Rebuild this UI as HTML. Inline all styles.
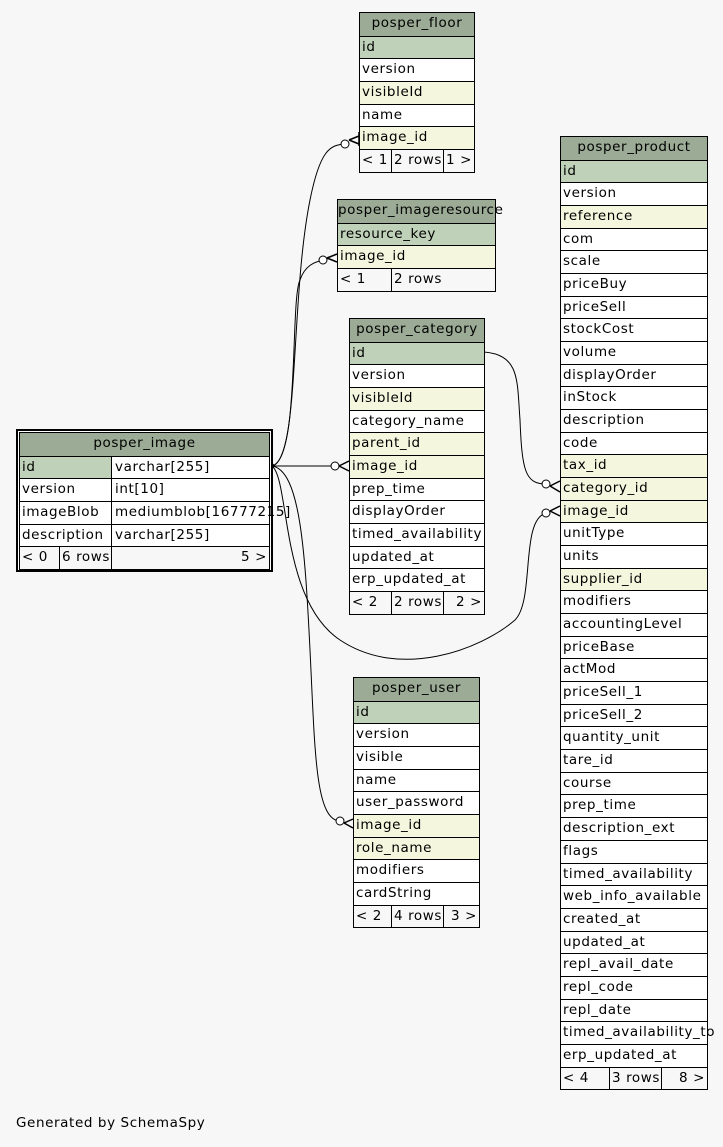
<!DOCTYPE html>
<html><head><style>
body{margin:0;background:#f7f7f7;width:723px;height:1147px;position:relative;overflow:hidden;font-family:"DejaVu Sans","Liberation Sans",sans-serif;font-size:13.5px;letter-spacing:0.6px;color:#000}
.t{position:absolute;border:1px solid #000;background:#fff;box-sizing:border-box}
.r{height:22.68px;box-sizing:border-box;border-top:1px solid #000;line-height:21px;padding-left:2px;white-space:nowrap;position:relative}
.h{background:#9cab96;text-align:center;padding:0;border-top:none;height:22.68px}
.pk{background:#bfd1b8}.fk{background:#f4f7de}
.f{background:#f7f7f7;padding:0}
.f span{position:absolute;top:0;height:100%;border-left:1px solid #000;padding-left:2px;box-sizing:border-box}
.f span:first-child{border-left:none}
svg{position:absolute;left:0;top:0}
</style></head><body>
<svg width="723" height="1147" fill="none" stroke="#000" stroke-width="1">
<path d="M272,466 C300,460 290,300 310,200 C320,150 330,145 345,144"/>
<path d="M272,466 C300,460 290,300 300,280 C305,265 315,262 323,260"/>
<path d="M272,466 L335,466"/>
<path d="M272,466 C300,470 305,550 310,650 C315,750 315,820 340,821"/>
<path d="M272,466 C290,480 280,600 340,640 C400,680 480,650 515,620 C535,600 520,520 546,513"/>
<path d="M484,352 C520,355 517,380 520,420 C522,470 525,484 546,484"/>
<g fill="#fff">
<circle cx="345" cy="144" r="4"/><circle cx="323" cy="260" r="4"/><circle cx="335" cy="466" r="4"/>
<circle cx="340" cy="821" r="4"/><circle cx="546" cy="513" r="4"/><circle cx="546" cy="484" r="4"/>
</g>
<g stroke-width="1.5">
<path d="M349,140 L359,136 M349,140 L359,144 M359,132 L359,146"/>
<path d="M327,258 L337,254 M327,258 L337,262"/>
<path d="M339,466 L349,461 M339,466 L349,471"/>
<path d="M344,823 L353,819 M344,823 L353,828"/>
<path d="M550,511 L560,506 M550,511 L560,516"/>
<path d="M550,486 L560,481 M550,486 L560,492"/>
</g>
<circle cx="272" cy="466" r="2" fill="#000"/>
</svg>

<div class="t" style="left:359px;top:12px;width:116px">
<div class="r h">posper_floor</div><div class="r pk">id</div><div class="r">version</div><div class="r fk">visibleId</div><div class="r">name</div><div class="r fk">image_id</div>
<div class="r f"><span style="left:0;width:32px">&lt; 1</span><span style="left:31px;width:53px">2 rows</span><span style="left:83px;width:32px">1 &gt;</span></div></div>

<div class="t" style="left:337px;top:199px;width:159px">
<div class="r h">posper_imageresource</div><div class="r pk">resource_key</div><div class="r fk">image_id</div>
<div class="r f"><span style="left:0;width:54px">&lt; 1</span><span style="left:53px;width:104px">2 rows</span></div></div>

<div class="t" style="left:349px;top:318px;width:136px">
<div class="r h">posper_category</div><div class="r pk">id</div><div class="r">version</div><div class="r fk">visibleId</div><div class="r">category_name</div><div class="r fk">parent_id</div><div class="r fk">image_id</div><div class="r">prep_time</div><div class="r">displayOrder</div><div class="r">timed_availability</div><div class="r">updated_at</div><div class="r">erp_updated_at</div>
<div class="r f"><span style="left:0;width:42px">&lt; 2</span><span style="left:41px;width:53px">2 rows</span><span style="left:93px;width:41px;text-align:right;padding-right:2px">2 &gt;</span></div></div>

<div class="t" style="left:353px;top:677px;width:127px">
<div class="r h">posper_user</div><div class="r pk">id</div><div class="r">version</div><div class="r">visible</div><div class="r">name</div><div class="r">user_password</div><div class="r fk">image_id</div><div class="r fk">role_name</div><div class="r">modifiers</div><div class="r">cardString</div>
<div class="r f"><span style="left:0;width:38px">&lt; 2</span><span style="left:37px;width:53px">4 rows</span><span style="left:89px;width:36px;text-align:right;padding-right:2px">3 &gt;</span></div></div>

<div class="t" style="left:560px;top:136px;width:148px">
<div class="r h">posper_product</div><div class="r pk">id</div><div class="r">version</div><div class="r fk">reference</div><div class="r">com</div><div class="r">scale</div><div class="r">priceBuy</div><div class="r">priceSell</div><div class="r">stockCost</div><div class="r">volume</div><div class="r">displayOrder</div><div class="r">inStock</div><div class="r">description</div><div class="r">code</div><div class="r fk">tax_id</div><div class="r fk">category_id</div><div class="r fk">image_id</div><div class="r">unitType</div><div class="r">units</div><div class="r fk">supplier_id</div><div class="r">modifiers</div><div class="r">accountingLevel</div><div class="r">priceBase</div><div class="r">actMod</div><div class="r">priceSell_1</div><div class="r">priceSell_2</div><div class="r">quantity_unit</div><div class="r">tare_id</div><div class="r">course</div><div class="r">prep_time</div><div class="r">description_ext</div><div class="r">flags</div><div class="r">timed_availability</div><div class="r">web_info_available</div><div class="r">created_at</div><div class="r">updated_at</div><div class="r">repl_avail_date</div><div class="r">repl_code</div><div class="r">repl_date</div><div class="r">timed_availability_to</div><div class="r">erp_updated_at</div>
<div class="r f"><span style="left:0;width:49px">&lt; 4</span><span style="left:48px;width:53px">3 rows</span><span style="left:100px;width:46px;text-align:right;padding-right:2px">8 &gt;</span></div></div>

<div style="position:absolute;left:16px;top:429px;width:257px;height:143px;border:2px solid #000;box-sizing:border-box;background:#fff"></div>
<div class="t" style="left:19px;top:432px;width:251px;background:#fff">
<div class="r h">posper_image</div>
<div class="r" style="padding:0"><span style="position:absolute;left:0;width:91px;height:100%;background:#bfd1b8;padding-left:2px;box-sizing:border-box">id</span><span style="position:absolute;left:91px;height:100%;border-left:1px solid #000;padding-left:3px">varchar[255]</span></div>
<div class="r" style="padding:0"><span style="position:absolute;left:0;padding-left:2px">version</span><span style="position:absolute;left:91px;height:100%;border-left:1px solid #000;padding-left:3px">int[10]</span></div>
<div class="r" style="padding:0"><span style="position:absolute;left:0;padding-left:2px">imageBlob</span><span style="position:absolute;left:91px;height:100%;border-left:1px solid #000;padding-left:3px">mediumblob[16777215]</span></div>
<div class="r" style="padding:0"><span style="position:absolute;left:0;padding-left:2px">description</span><span style="position:absolute;left:91px;height:100%;border-left:1px solid #000;padding-left:3px">varchar[255]</span></div>
<div class="r f"><span style="left:0;width:40px">&lt; 0</span><span style="left:39px;width:53px">6 rows</span><span style="left:91px;width:158px;text-align:right;padding-right:2px">5 &gt;</span></div></div>

<div style="position:absolute;left:16px;top:1115px">Generated by SchemaSpy</div>
</body></html>
